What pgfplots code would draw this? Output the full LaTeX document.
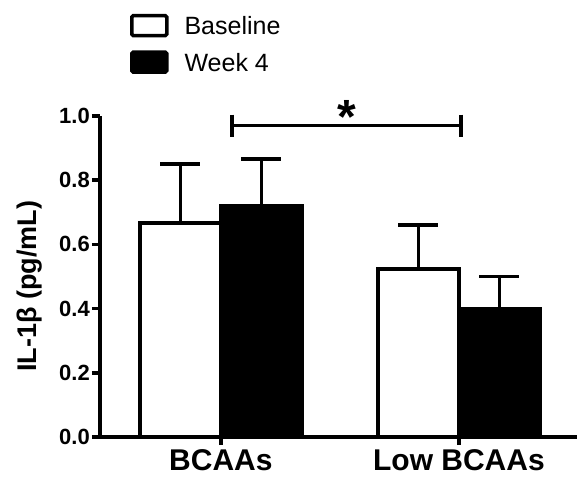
\documentclass[border=0pt]{standalone}
\usepackage{fontspec}
\setmainfont{Liberation Sans}
\usepackage{pgfplots}
\pgfplotsset{compat=1.18}
\begin{document}
\begin{tikzpicture}
\path[use as bounding box] (-100pt,-42pt) rectangle (478pt,437pt);
\begin{axis}[
  scale only axis, width=477pt, height=321pt,
  xmin=-0.508, xmax=1.496, ymin=0, ymax=1,
  clip=false,
  axis lines=left,
  axis line style={line width=3.5pt, -},
  tick style={line width=3.5pt, black},
  major tick length=8pt,
  tick align=outside,
  xtick={0,1}, xticklabels={BCAAs, Low BCAAs},
  ytick={0,0.2,0.4,0.6,0.8,1.0},
  yticklabel style={font=\fontsize{22}{24}\selectfont\bfseries, inner sep=2pt,
    /pgf/number format/.cd, fixed, fixed zerofill, precision=1, assume math mode=true},
  xticklabel style={font=\fontsize{30}{32}\selectfont\bfseries, inner sep=4pt},
  ylabel={IL-1β (pg/mL)},
  ylabel style={at={(axis description cs:-0.147,0.47)}, anchor=center, font=\fontsize{27}{30}\selectfont\bfseries},
  ybar,
  legend style={at={(axis description cs:0.063,1.318)}, anchor=north west, draw=none, fill=none,
    inner sep=0pt, outer sep=0pt, font=\fontsize{25}{28}\selectfont, row sep=13pt,
    nodes={inner sep=0pt}, /tikz/every odd column/.append style={column sep=16pt}},
  legend cell align=left,
]
\addlegendimage{legend image code/.code={\draw[black, fill=white, line width=3.5pt, rounded corners=1.5pt] (0pt,-9pt) rectangle (35pt,11pt);}}
\addlegendentry{Baseline}
\addlegendimage{legend image code/.code={\draw[black, fill=black, line width=3.5pt, rounded corners=1.5pt] (0pt,-9pt) rectangle (35pt,11pt);}}
\addlegendentry{Week 4}

\addplot[forget plot, bar width=81pt, bar shift=-40.5pt, fill=white, draw=black, line width=3.5pt,
  error bars/.cd, y dir=plus, y explicit, error bar style={line width=3.5pt, black},
  error mark=|, error mark options={mark size=20pt, line width=3.5pt, black}]
  coordinates {(0,0.667) +- (0,0.183) (1,0.523) +- (0,0.137)};
\addplot[forget plot, bar width=81pt, bar shift=40.5pt, fill=black, draw=black, line width=3.5pt,
  error bars/.cd, y dir=plus, y explicit, error bar style={line width=3.5pt, black},
  error mark=|, error mark options={mark size=20pt, line width=3.5pt, black}]
  coordinates {(0,0.720) +- (0,0.146) (1,0.399) +- (0,0.101)};

\addplot[forget plot, sharp plot, black, line width=3.5pt, mark=|, mark size=11pt,
  mark options={line width=3.5pt}]
  coordinates {(0.046,0.97) (1.008,0.97)};
\node[anchor=north, inner sep=0pt, font=\fontsize{48}{50}\selectfont\bfseries] at (axis cs:0.529,1.05) {*};
\end{axis}
\end{tikzpicture}
\end{document}
